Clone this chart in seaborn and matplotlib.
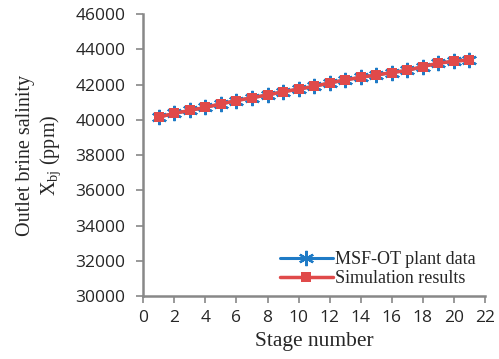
import matplotlib
matplotlib.use("Agg")
import matplotlib.pyplot as plt
import seaborn as sns
import pandas as pd

# data
stages = list(range(1, 22))
plant_data = [40150, 40370, 40530, 40710, 40900, 41090, 41250, 41410, 41590, 41740,
              41900, 42090, 42260, 42410, 42540, 42680, 42800, 43020, 43210, 43320, 43400]
simulation = [40150, 40370, 40530, 40710, 40900, 41090, 41250, 41410, 41590, 41740,
              41900, 42090, 42260, 42410, 42540, 42680, 42800, 43020, 43210, 43320, 43400]
x_ticks = list(range(0, 23, 2))
y_ticks = list(range(30000, 46001, 2000))

df = pd.DataFrame({"stage": stages, "plant": plant_data, "sim": simulation})

sns.set_style("white")
plt.rcParams["font.family"] = ["Open Sans", "DejaVu Sans"]
plt.rcParams["mathtext.fontset"] = "custom"
plt.rcParams["mathtext.rm"] = "Liberation Serif"
plt.rcParams["mathtext.it"] = "Liberation Serif"

blue = "#1f7bc6"
red = "#e04a4a"
grey = "#888888"

fig = plt.figure(figsize=(4.99, 3.59), dpi=100)
ax = fig.add_axes([0.287, 0.175, 0.685, 0.786])

sns.lineplot(
  data=df, x="stage", y="plant", ax=ax,
  color=blue, linewidth=2.2,
  marker=(6, 2, 0), markersize=11, markeredgewidth=1.6,
  markeredgecolor=blue, label="MSF-OT plant data",
)
sns.lineplot(
  data=df, x="stage", y="sim", ax=ax,
  color=red, linewidth=2.5,
  marker="s", markersize=7.5, markeredgewidth=0,
  markerfacecolor=red, label="Simulation results",
)

ax.set_xlim(0, 22)
ax.set_ylim(30000, 46000)
ax.set_xticks(x_ticks)
ax.set_yticks(y_ticks)
ax.tick_params(axis="both", labelsize=12.5, direction="out", length=5,
               width=1.2, color=grey, left=True, bottom=True)
ax.tick_params(axis="x", pad=5)
ax.tick_params(axis="y", pad=8)
for s in ["top", "right"]:
  ax.spines[s].set_visible(False)
for s in ["left", "bottom"]:
  ax.spines[s].set_color(grey)
  ax.spines[s].set_linewidth(1.8)

ax.set_xlabel("Stage number", fontdict={"family": "Liberation Serif", "size": 15.5}, labelpad=4)
ax.set_ylabel("Outlet brine salinity\nX$_{\\mathrm{bj}}$ (ppm)",
              fontdict={"family": "Liberation Serif", "size": 14.5}, labelpad=9)

ax.legend(
  loc="lower right",
  frameon=False,
  prop={"family": "Liberation Serif", "size": 13},
  handlelength=2.9,
  handletextpad=0.15,
  labelspacing=0.1,
  borderaxespad=0.1,
)

plt.savefig("out.png", dpi=100)
